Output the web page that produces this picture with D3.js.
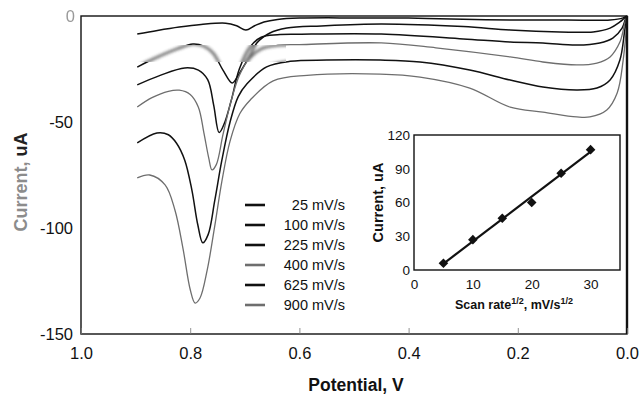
<!DOCTYPE html>
<html>
<head>
<meta charset="utf-8">
<script src="https://cdn.jsdelivr.net/npm/d3@7"></script>
<style>
  body { margin: 0; background: #fff; }
  svg { display: block; }
  text { font-family: "Liberation Sans", Arial, Helvetica, sans-serif; }
</style>
</head>
<body>
<svg id="chart" width="640" height="394"></svg>
<script>
// ---- Cyclic voltammograms: [potential (V), current (uA)] ----
const scanRates = ["25 mV/s", "100 mV/s", "225 mV/s", "400 mV/s", "625 mV/s", "900 mV/s"];

const cv25 = [[0.897,-8.5],[0.86,-6.8],[0.82,-5.2],[0.78,-4.0],[0.735,-3.4],[0.715,-4.6],[0.698,-6.6],[0.682,-4.6],[0.665,-2.8],[0.64,-1.6],[0.6,-1.0],[0.5,-0.9],[0.4,-1.0],[0.3,-1.5],[0.214,-1.9],[0.11,-1.9],[0.031,-1.9],[0.007,-0.9],[0,0]];
const cv100 = [[0.897,-24.1],[0.879,-21.7],[0.85,-18.2],[0.824,-15.5],[0.795,-13.2],[0.775,-14.2],[0.758,-17.5],[0.74,-25.5],[0.723,-31.6],[0.712,-28],[0.703,-24.1],[0.69,-18.4],[0.678,-12.7],[0.654,-8],[0.623,-5.7],[0.56,-4.7],[0.45,-3.8],[0.3,-5.0],[0.214,-6.6],[0.123,-7.5],[0.062,-7.5],[0.031,-5.7],[0.013,-2.8],[0.004,-0.9],[0,-0.3]];
const cv225 = [[0.897,-32.5],[0.855,-28],[0.81,-24.5],[0.785,-25.5],[0.768,-30],[0.757,-42],[0.747,-55],[0.738,-51],[0.725,-40],[0.71,-25],[0.69,-14.5],[0.67,-10],[0.64,-8.8],[0.6,-8.6],[0.45,-8.5],[0.3,-10.8],[0.214,-12.3],[0.154,-12.7],[0.092,-13.7],[0.05,-12.7],[0.026,-10.4],[0.009,-5.7],[0.002,-0.9],[0,-0.3]];
const cv400 = [[0.897,-42.9],[0.87,-38.5],[0.84,-35.5],[0.82,-35],[0.80,-37],[0.785,-43],[0.775,-55],[0.766,-67],[0.76,-72.6],[0.752,-70],[0.74,-56],[0.725,-40],[0.71,-28],[0.69,-19.5],[0.67,-15.5],[0.64,-13.8],[0.6,-13.5],[0.45,-12.7],[0.35,-15],[0.214,-19.3],[0.154,-21.7],[0.092,-23.1],[0.055,-22.2],[0.031,-19.3],[0.013,-12.3],[0.004,-3.3],[0,-0.3]];
const cv625 = [[0.897,-59.9],[0.861,-55.2],[0.84,-56],[0.825,-60],[0.81,-68],[0.797,-82],[0.786,-98.6],[0.777,-107],[0.767,-103],[0.755,-87],[0.742,-68],[0.727,-50],[0.712,-38],[0.696,-32],[0.66,-24],[0.617,-21.4],[0.55,-20.8],[0.452,-20.8],[0.379,-21.7],[0.288,-25.5],[0.214,-30.2],[0.154,-33.5],[0.092,-34.9],[0.055,-34],[0.031,-30.2],[0.013,-20.8],[0.004,-6.6],[0,-0.5]];
const cv900 = [[0.897,-76.4],[0.874,-75],[0.846,-79.7],[0.828,-91.5],[0.813,-110],[0.8,-129],[0.791,-135.4],[0.782,-133],[0.769,-120],[0.755,-99],[0.742,-78],[0.727,-59],[0.709,-46],[0.69,-39.6],[0.648,-30.6],[0.586,-28],[0.452,-27.4],[0.379,-28.8],[0.288,-34],[0.214,-43],[0.154,-45.3],[0.092,-47.6],[0.068,-47.6],[0.037,-44.3],[0.018,-36.3],[0.007,-20.8],[0,-1.9]];

const potentialTicks = [1.0, 0.8, 0.6, 0.4, 0.2, 0.0];
const currentTicks = [0, -50, -100, -150];

// ---- Inset: peak current vs square root of scan rate ----
const sqrtScanRate = [5, 10, 15, 20, 25, 30];
const peakCurrent = [6, 27, 46, 60, 86, 107];
const insetXTicks = [0, 10, 20, 30];
const insetYTicks = [0, 30, 60, 90, 120];

// ---- styling ----
const curveColors = ["#111", "#111", "#111", "#6e6e6e", "#111", "#6e6e6e"];
const curveWidths = [1.5, 1.5, 1.5, 1.3, 1.5, 1.3];
const series = [cv25, cv100, cv225, cv400, cv625, cv900];

const svg = d3.select("#chart");
const defs = svg.append("defs");
defs.append("filter").attr("id", "soft").attr("x", "-20%").attr("y", "-50%").attr("width", "140%").attr("height", "200%")
  .append("feGaussianBlur").attr("stdDeviation", 1.6);
defs.append("filter").attr("id", "softText")
  .append("feGaussianBlur").attr("stdDeviation", 0.7);
defs.append("clipPath").attr("id", "smear")
  .append("rect").attr("x", 134).attr("y", 45).attr("width", 152).attr("height", 17);

const x = d3.scaleLinear().domain([1, 0]).range([81, 627]);
const y = d3.scaleLinear().domain([0, -150]).range([16, 334]);

const line = d3.line()
  .x(d => x(d[0]))
  .y(d => y(d[1]))
  .curve(d3.curveCatmullRom.alpha(0.5));

// voltammograms
const curves = svg.append("g");
series.forEach((s, i) => {
  curves.append("path")
    .attr("d", line(s))
    .attr("fill", "none")
    .attr("stroke", curveColors[i])
    .attr("stroke-width", curveWidths[i])
    .attr("stroke-linejoin", "round");
});

// smeared strip across the upper curves
svg.append("rect").attr("x", 134).attr("y", 45).attr("width", 152).attr("height", 17).attr("fill", "#fff");
const smear = svg.append("g").attr("clip-path", "url(#smear)").append("g").attr("filter", "url(#soft)").attr("opacity", 0.75);
series.forEach((s, i) => {
  smear.append("path")
    .attr("d", line(s))
    .attr("fill", "none")
    .attr("stroke", "#333")
    .attr("stroke-width", 2.6);
});

// frame
svg.append("rect")
  .attr("x", x(1)).attr("y", y(0))
  .attr("width", x(0) - x(1)).attr("height", y(-150) - y(0))
  .attr("fill", "none").attr("stroke", "#111").attr("stroke-width", 1.4);
svg.append("line")
  .attr("x1", x(0)).attr("x2", x(0)).attr("y1", y(0)).attr("y2", y(-150))
  .attr("stroke", "#111").attr("stroke-width", 2.4);

// x axis
const xAxis = svg.append("g")
  .attr("transform", `translate(0,${y(-150)})`)
  .call(d3.axisBottom(x).tickValues(potentialTicks).tickFormat(d3.format(".1f"))
    .tickSizeInner(-6).tickSizeOuter(0).tickPadding(13));
xAxis.select(".domain").remove();
xAxis.selectAll(".tick line").attr("stroke", "#777").attr("stroke-width", 0.8);
xAxis.selectAll(".tick text").attr("font-size", 16.5).attr("fill", "#111")
  .attr("font-family", "'Liberation Sans', Arial, sans-serif");

// y axis
const yAxis = svg.append("g")
  .attr("transform", `translate(${x(1)},0)`)
  .call(d3.axisLeft(y).tickValues(currentTicks).tickFormat(d3.format("d"))
    .tickSize(0).tickPadding(8));
yAxis.select(".domain").remove();
yAxis.selectAll(".tick text").attr("font-size", 16.5).attr("fill", "#111")
  .attr("font-family", "'Liberation Sans', Arial, sans-serif")
  .text(d => d === 0 ? "0" : String(d).replace("-", "-"));
yAxis.selectAll(".tick").filter(d => d === 0).select("text")
  .attr("fill", "#9a9a9a").attr("filter", "url(#softText)").attr("x", -6);

// axis titles
svg.append("text")
  .attr("x", 356).attr("y", 391)
  .attr("text-anchor", "middle")
  .attr("font-size", 17.5).attr("font-weight", "bold").attr("fill", "#111")
  .text("Potential, V");

const yTitle = svg.append("text")
  .attr("transform", "translate(27,182) rotate(-90)")
  .attr("text-anchor", "middle")
  .attr("font-size", 18).attr("font-weight", "bold");
yTitle.append("tspan").attr("fill", "#8c8c8c").text("Current, ");
yTitle.append("tspan").attr("fill", "#222").text("uA");

// legend
const legend = svg.append("g");
scanRates.forEach((label, i) => {
  const ly = 205 + i * 20;
  legend.append("line")
    .attr("x1", 245).attr("x2", 265).attr("y1", ly).attr("y2", ly)
    .attr("stroke", curveColors[i]).attr("stroke-width", 2.6);
  legend.append("text")
    .attr("x", 345).attr("y", ly).attr("dy", "0.35em")
    .attr("text-anchor", "end")
    .attr("font-size", 14.5).attr("fill", "#111")
    .text(label);
});

// ---- inset plot ----
const ix = d3.scaleLinear().domain([0, 35]).range([414, 620]);
const iy = d3.scaleLinear().domain([0, 120]).range([270, 135]);
const inset = svg.append("g");

inset.append("rect")
  .attr("x", ix(0)).attr("y", iy(120))
  .attr("width", ix(35) - ix(0)).attr("height", iy(0) - iy(120))
  .attr("fill", "#fff").attr("stroke", "#111").attr("stroke-width", 1.4);

const ixAxis = inset.append("g")
  .attr("transform", `translate(0,${iy(0)})`)
  .call(d3.axisBottom(ix).tickValues(insetXTicks).tickSize(0).tickPadding(9));
ixAxis.select(".domain").remove();
ixAxis.selectAll(".tick text").attr("font-size", 13.5).attr("fill", "#111")
  .attr("font-family", "'Liberation Sans', Arial, sans-serif");

const iyAxis = inset.append("g")
  .attr("transform", `translate(${ix(0)},0)`)
  .call(d3.axisLeft(iy).tickValues(insetYTicks).tickSize(0).tickPadding(4));
iyAxis.select(".domain").remove();
iyAxis.selectAll(".tick text").attr("font-size", 13.5).attr("fill", "#111")
  .attr("font-family", "'Liberation Sans', Arial, sans-serif");

// least-squares fit through the peak currents
const mx = d3.mean(sqrtScanRate), my = d3.mean(peakCurrent);
const slope = d3.sum(sqrtScanRate, (v, i) => (v - mx) * (peakCurrent[i] - my)) /
              d3.sum(sqrtScanRate, v => (v - mx) * (v - mx));
const intercept = my - slope * mx;
const fitEnds = [4.8, 30.2];
inset.append("path")
  .attr("d", d3.line().x(d => ix(d)).y(d => iy(intercept + slope * d))(fitEnds))
  .attr("stroke", "#111").attr("stroke-width", 2.2).attr("fill", "none");

inset.selectAll(".pt")
  .data(sqrtScanRate.map((v, i) => [v, peakCurrent[i]]))
  .join("path")
  .attr("class", "pt")
  .attr("d", d3.symbol(d3.symbolSquare, 46)())
  .attr("transform", d => `translate(${ix(d[0])},${iy(d[1])}) rotate(45)`)
  .attr("fill", "#111");

inset.append("text")
  .attr("transform", `translate(383,${(iy(0) + iy(120)) / 2}) rotate(-90)`)
  .attr("text-anchor", "middle")
  .attr("font-size", 14.5).attr("font-weight", "bold").attr("fill", "#111")
  .text("Current, uA");

const ixTitle = inset.append("text")
  .attr("x", 514).attr("y", 309)
  .attr("text-anchor", "middle")
  .attr("font-size", 12.5).attr("font-weight", "bold").attr("fill", "#111");
ixTitle.append("tspan").text("Scan rate");
ixTitle.append("tspan").attr("font-size", 9).attr("dy", -5).text("1/2");
ixTitle.append("tspan").attr("dy", 5).text(", mV/s");
ixTitle.append("tspan").attr("font-size", 9).attr("dy", -5).text("1/2");
</script>
</body>
</html>
